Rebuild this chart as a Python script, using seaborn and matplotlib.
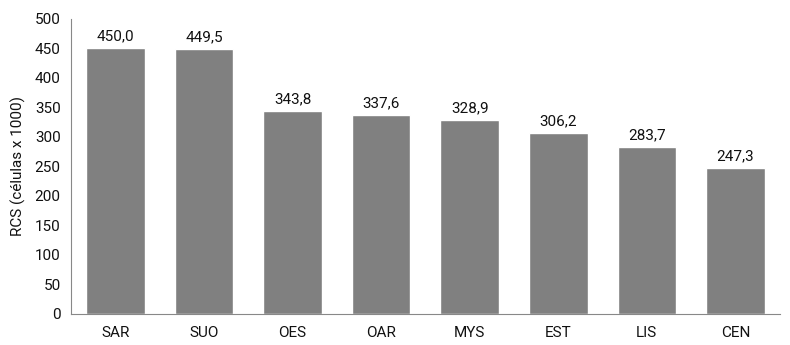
import numpy as np
import pandas as pd
import matplotlib.pyplot as plt
import seaborn as sns

categorias = ['SAR', 'SUO', 'OES', 'OAR', 'MYS', 'EST', 'LIS', 'CEN']
rcs = [450.0, 449.5, 343.8, 337.6, 328.9, 306.2, 283.7, 247.3]

df = pd.DataFrame({'cat': categorias, 'rcs': rcs})

sns.set_style('white')
plt.rcParams['font.family'] = ['Roboto', 'DejaVu Sans']
plt.rcParams['text.color'] = '#111111'
plt.rcParams['xtick.labelcolor'] = '#111111'
plt.rcParams['ytick.labelcolor'] = '#111111'

fig = plt.figure(figsize=(7.9, 3.45), dpi=100)
ax = fig.add_axes([0.09, 0.09, 0.897, 0.855])

sns.barplot(data=df, x='cat', y='rcs', color='#808080', saturation=1,
            width=0.66, ax=ax)

# etiquetas sobre las barras (coma decimal)
for i, v in enumerate(rcs):
    ax.text(i, v + 8, f'{v:.1f}'.replace('.', ','), ha='center', va='bottom',
            fontsize=11, color='#111111')

ax.set_ylim(0, 500)
ax.set_xlim(-0.5, len(categorias) - 0.5)
ax.set_yticks(np.arange(0, 501, 50))
ax.set_xticks(np.arange(-0.5, len(categorias)), minor=True)
ax.tick_params(axis='x', which='major', length=0, pad=9, labelsize=11)
ax.tick_params(axis='x', which='minor', length=5, color='#888888', direction='out')
ax.tick_params(axis='y', length=4, color='#888888', direction='out', labelsize=11)
ax.set_xlabel('')
ax.set_ylabel('RCS (células x 1000)', fontsize=11, color='#111111', labelpad=6)

for s in ['top', 'right']:
    ax.spines[s].set_visible(False)
for s in ['left', 'bottom']:
    ax.spines[s].set_color('#888888')

fig.savefig('out.png', dpi=100)
